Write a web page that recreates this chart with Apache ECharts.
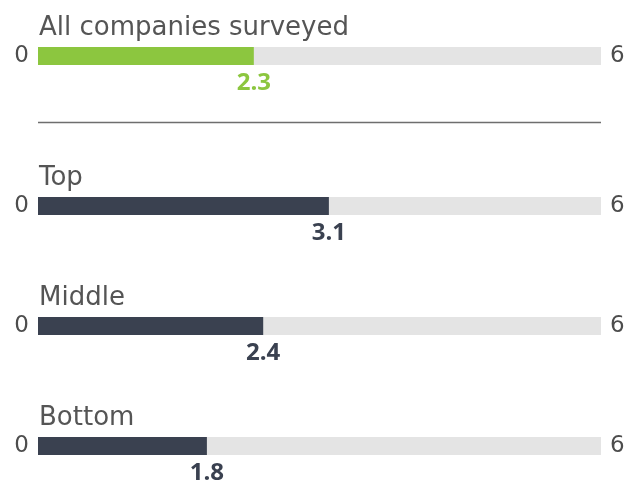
<!DOCTYPE html>
<html>
<head>
<meta charset="utf-8">
<script src="https://cdn.jsdelivr.net/npm/echarts@6/dist/echarts.min.js"></script>
<style>
  html, body { margin: 0; padding: 0; background: #fff; }
  #chart { width: 628px; height: 484px; }
</style>
</head>
<body>
<div id="chart"></div>
<script>
// Rows of the chart: group name, score, bar colour
const groups = ['All companies surveyed', 'Top', 'Middle', 'Bottom'];
const scores = [2.3, 3.1, 2.4, 1.8];
const barColors = ['#8cc63f', '#3a4150', '#3a4150', '#3a4150'];
// Scale end labels shown on either side of each track
const scaleTicks = [0, 6];

const TEXT_FONT = '"DejaVu Sans", "Open Sans", sans-serif';
const VALUE_FONT = '"Open Sans", "Noto Sans", sans-serif';
const rowTops = [47, 197, 317, 437];
const barH = 18;

const grids = [], xAxes = [], yAxes = [], series = [], titles = [];
groups.forEach((name, i) => {
  grids.push({ left: 38, right: 27, top: rowTops[i], height: barH, containLabel: false });
  xAxes.push({
    gridIndex: i, type: 'value', min: scaleTicks[0], max: scaleTicks[1],
    show: false
  });
  const axisStyle = { color: '#4d4d4d', fontSize: 23, fontFamily: TEXT_FONT, margin: 9 };
  yAxes.push({
    gridIndex: i, type: 'category', data: [name], position: 'left',
    axisLine: { show: false }, axisTick: { show: false }, splitLine: { show: false },
    axisLabel: Object.assign({ formatter: () => String(scaleTicks[0]) }, axisStyle)
  });
  yAxes.push({
    gridIndex: i, type: 'category', data: [name], position: 'right',
    axisLine: { show: false }, axisTick: { show: false }, splitLine: { show: false },
    axisLabel: Object.assign({ formatter: () => String(scaleTicks[1]) }, axisStyle, { margin: 9 })
  });
  series.push({
    type: 'bar', xAxisIndex: i, yAxisIndex: i * 2,
    data: [scores[i]], barWidth: barH,
    itemStyle: { color: barColors[i] },
    showBackground: true,
    backgroundStyle: { color: '#e4e4e4' },
    label: {
      show: true, position: ['100%', '100%'], align: 'center', verticalAlign: 'top',
      offset: [0, 6],
      color: barColors[i], fontSize: 24, fontWeight: 'bold', fontFamily: VALUE_FONT,
      formatter: p => p.value.toFixed(1)
    },
    silent: true, animation: false
  });
  titles.push({
    text: name, left: 34, top: rowTops[i] - 37,
    textStyle: { color: '#555555', fontSize: 26, fontWeight: 'normal', fontFamily: TEXT_FONT }
  });
});

const chart = echarts.init(document.getElementById('chart'), null, { renderer: 'canvas' });
chart.setOption({
  animation: false,
  title: titles,
  grid: grids,
  xAxis: xAxes,
  yAxis: yAxes,
  series: series,
  graphic: [{
    type: 'line', shape: { x1: 38, y1: 122.5, x2: 601, y2: 122.5 },
    style: { stroke: '#6e6e6e', lineWidth: 1.5 }
  }]
});
</script>
</body>
</html>
